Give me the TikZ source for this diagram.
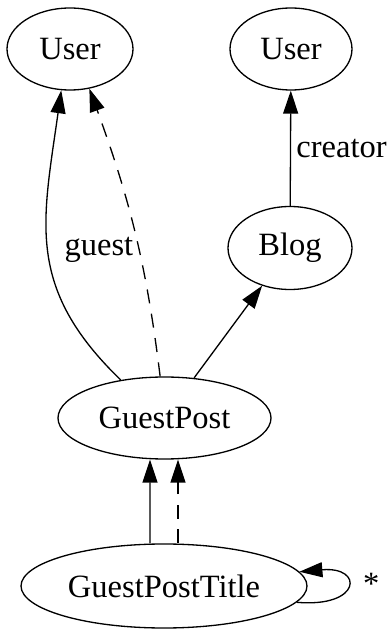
\documentclass[tikz,border=0pt]{standalone}
\usepackage{fontspec}
\setmainfont{Liberation Serif}
\usepackage{tikz}
\usetikzlibrary{arrows.meta,shapes.geometric}
\definecolor{gvink}{HTML}{000000}
\tikzset{
  ent/.style={ellipse,draw=gvink,line width=0.75pt,inner sep=0pt,minimum height=1.64cm},
  ar/.style={-{Triangle[length=0.46cm,width=0.3cm]},draw=gvink,line width=0.75pt},
  dar/.style={ar,dash pattern=on 8pt off 6pt},
  lbl/.style={inner sep=3pt},
}

\begin{document}
\begin{tikzpicture}[font=\fontsize{18.5}{22}\selectfont]
  \useasboundingbox (0,0) rectangle (7.78,12.58);
  \node[ent,minimum width=2.52cm] (user1) at (1.40,11.60) {User};
  \node[ent,minimum width=2.44cm] (user2) at (5.82,11.60) {User};
  \node[ent,minimum width=2.48cm,minimum height=1.66cm] (blog) at (5.80,7.62) {Blog};
  \node[ent,minimum width=4.26cm] (gpost) at (3.29,4.22) {GuestPost};
  \node[ent,minimum width=5.72cm,minimum height=1.68cm] (gptitle) at (3.28,0.86) {GuestPostTitle};
  \draw[ar] (gpost.139) to[out=136,in=-98,looseness=1.15] node[lbl,pos=0.5,right=6pt]{guest} (user1.258);
  \draw[dar] (gpost.96) to[out=97,in=-70] (user1.-64);
  \draw[ar] (gpost) -- (blog);
  \draw[ar] (blog) -- node[lbl,right]{creator} (user2);
  \draw[ar] ([xshift=-0.28cm]gptitle.north) -- ([xshift=-0.29cm]gpost.south);
  \draw[dar] ([xshift=0.28cm]gptitle.north) -- ([xshift=0.27cm]gpost.south);
  \draw[ar] (gptitle.-7) to[out=-5,in=5,distance=1.3cm] node[lbl,right=6pt,yshift=2pt]{*} (gptitle.6);
\end{tikzpicture}
\end{document}
